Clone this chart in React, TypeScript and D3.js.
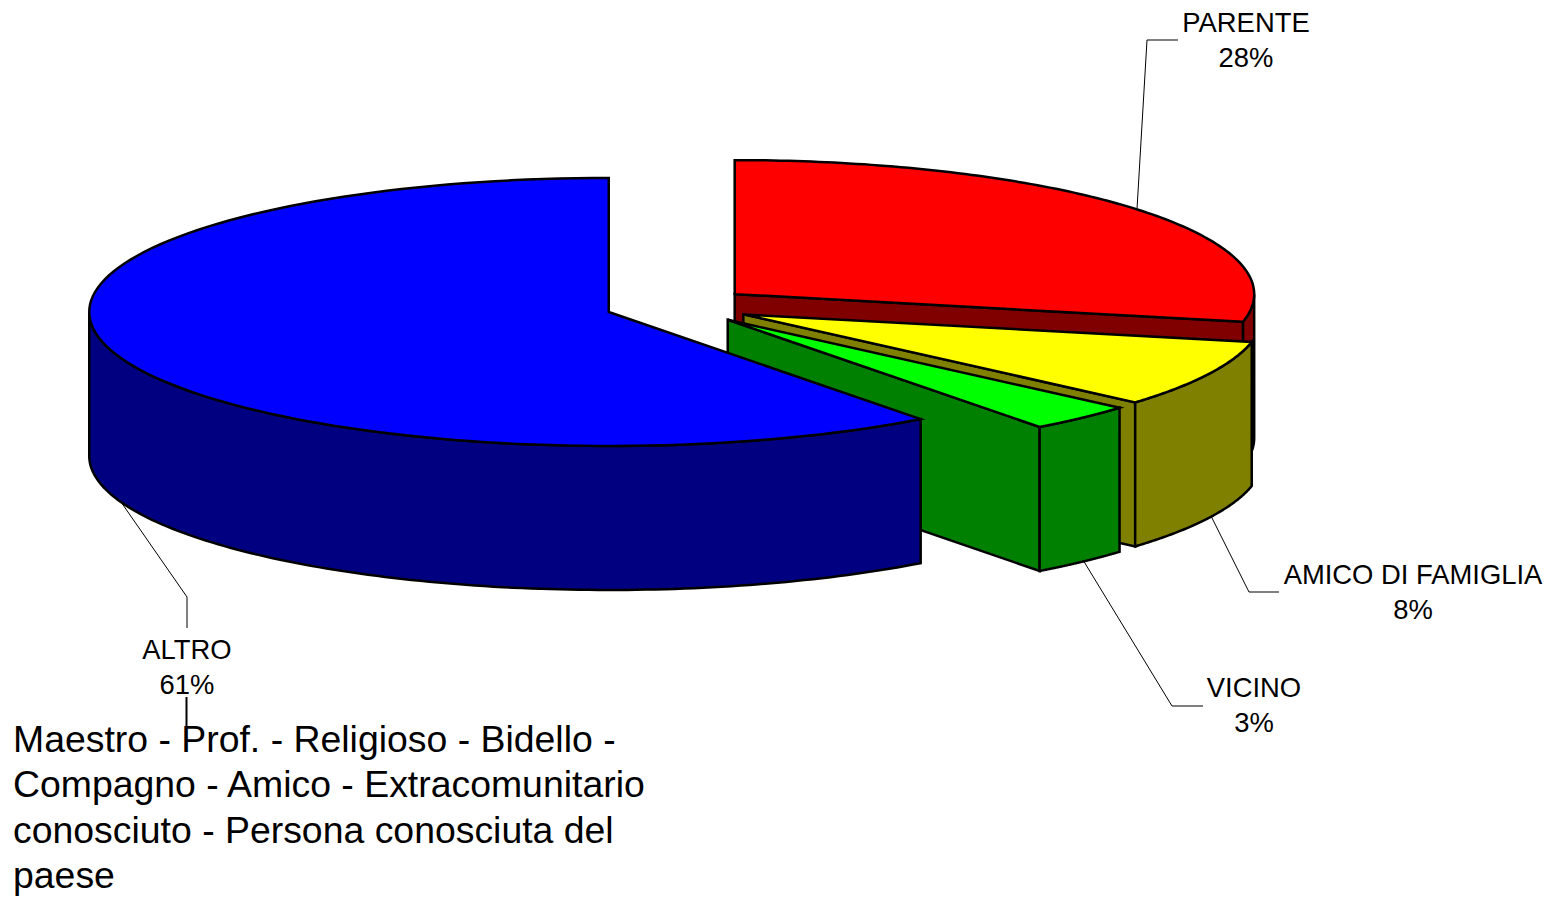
import React from "react";
import * as d3 from "d3";

const categories = ["PARENTE", "AMICO DI FAMIGLIA", "VICINO", "ALTRO"];
const sliceShares = [28.3, 8.1, 3.35, 60.25];
const percentLabels = ["28%", "8%", "3%", "61%"];
const topColors = ["#ff0000", "#ffff00", "#00ff00", "#0000ff"];
const sideColors = ["#800000", "#808000", "#008000", "#000080"];
const noteLines = [
  "Maestro - Prof. - Religioso - Bidello -",
  "Compagno - Amico - Extracomunitario",
  "conosciuto - Persona conosciuta del",
  "paese",
];

const W = 1557, H = 899;
const CX = 678, CY = 306, RX = 519.5, RY = 134, DEPTH = 144, EXPLODE = 73;

const labelBoxes = [
  { x: 1246, y: 32, line: [[1137, 209], [1147, 40], [1178, 40]] },
  { x: 1413, y: 584, line: [[1211, 516], [1249, 592], [1279, 592]] },
  { x: 1254, y: 697, line: [[1083, 560], [1172, 706], [1203, 706]] },
  { x: 187, y: 659, line: [[121, 502], [187, 597], [187, 628]] },
];

const pie = d3.pie<number>().sort(null).value((d) => d);
const arcs = pie(sliceShares);
const lineGen = d3.line<[number, number]>();

export default function App() {
  const slices = arcs.map((a, i) => {
    const mid = (a.startAngle + a.endAngle) / 2;
    const cx = CX + EXPLODE * Math.sin(mid);
    const cy = CY - EXPLODE * (RY / RX) * Math.cos(mid);
    const pt = (t: number, dz = 0): [number, number] => [
      cx + RX * Math.sin(t),
      cy - RY * Math.cos(t) + dz,
    ];
    const sample = (t0: number, t1: number) =>
      d3.range(0, 121).map((k) => t0 + ((t1 - t0) * k) / 120);
    const top =
      lineGen([[cx, cy], ...sample(a.startAngle, a.endAngle).map((t) => pt(t))]) + "Z";
    // outer wall: only the front half of the rim shows
    const w0 = Math.max(a.startAngle, Math.PI / 2);
    const w1 = Math.min(a.endAngle, (3 * Math.PI) / 2);
    const wall =
      w1 > w0
        ? lineGen([
            ...sample(w0, w1).map((t) => pt(t)),
            ...sample(w1, w0).map((t) => pt(t, DEPTH)),
          ]) + "Z"
        : null;
    // cut face at the clockwise end, faces the viewer for the three right slices
    const face =
      i < 3
        ? lineGen([[cx, cy], pt(a.endAngle), pt(a.endAngle, DEPTH), [cx, cy + DEPTH]]) + "Z"
        : null;
    return { top, wall, face, i };
  });

  return (
    <svg
      width={W}
      height={H}
      viewBox={`0 0 ${W} ${H}`}
      style={{ position: "absolute", left: 0, top: 0, background: "#fff" }}
      fontFamily="'Liberation Sans', Arial, sans-serif"
    >
      {slices.map((s) => (
        <g key={s.i} stroke="#000" strokeWidth={2.5} strokeLinejoin="miter">
          {s.face && <path d={s.face} fill={sideColors[s.i]} />}
          {s.wall && <path d={s.wall} fill={sideColors[s.i]} />}
          <path d={s.top} fill={topColors[s.i]} />
        </g>
      ))}
      {labelBoxes.map((b, i) => (
        <g key={categories[i]}>
          <path d={lineGen(b.line as [number, number][]) ?? ""} fill="none" stroke="#000" strokeWidth={1} />
          <text x={b.x} y={b.y} textAnchor="middle" fontSize={27.4} fill="#000">
            {categories[i]}
          </text>
          <text x={b.x} y={b.y + 35} textAnchor="middle" fontSize={27.4} fill="#000">
            {percentLabels[i]}
          </text>
        </g>
      ))}
      <line x1={186.5} y1={697} x2={186.5} y2={727} stroke="#000" strokeWidth={2} />
      {noteLines.map((t, i) => (
        <text key={t} x={13} y={752 + i * 45.3} fontSize={37.4} fill="#000">
          {t}
        </text>
      ))}
    </svg>
  );
}
